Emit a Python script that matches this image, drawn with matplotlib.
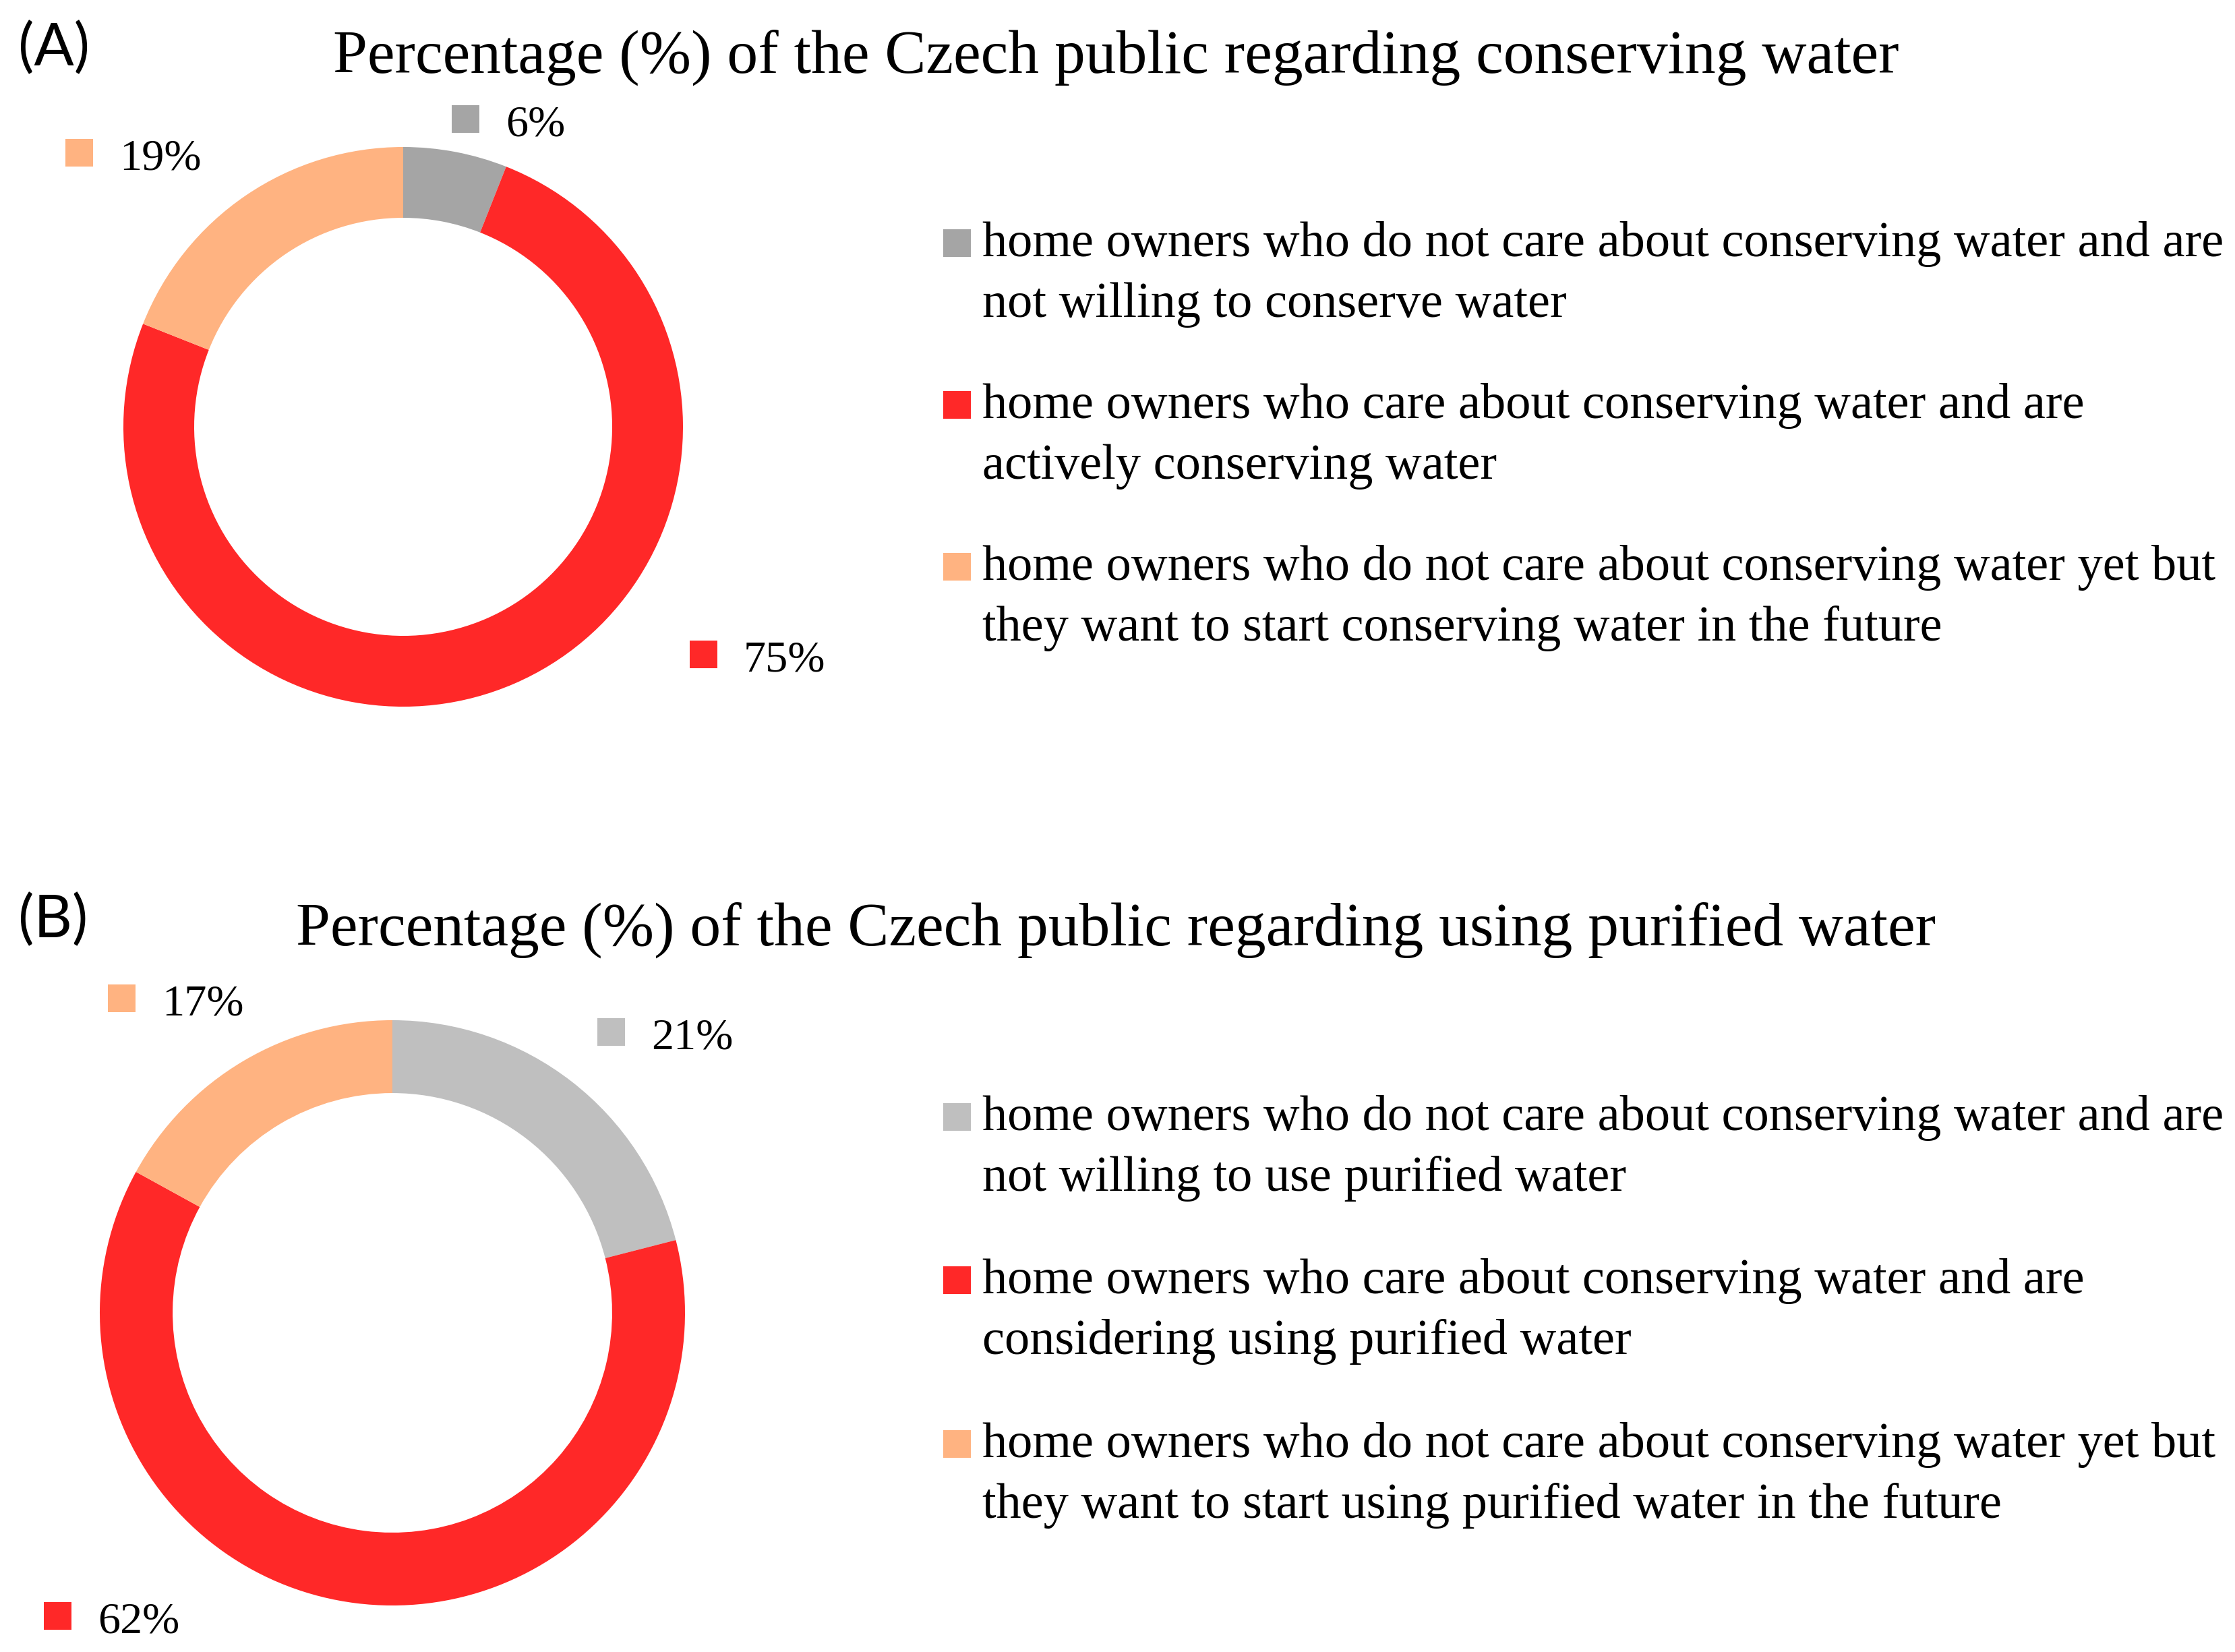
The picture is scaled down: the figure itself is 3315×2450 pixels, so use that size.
import matplotlib
matplotlib.use("Agg")
import matplotlib.pyplot as plt
from matplotlib.patches import Rectangle

W, H = 3315, 2450
DPI = 300
fig = plt.figure(figsize=(W / DPI, H / DPI), dpi=DPI)
fig.patch.set_facecolor("white")

SERIF = ["Liberation Serif", "DejaVu Serif"]
SANS = ["Lato", "DejaVu Sans"]

# ---------------- data ----------------
panel_tags = ["(A)", "(B)"]
titles = [
    "Percentage (%) of the Czech public regarding conserving water",
    "Percentage (%) of the Czech public regarding using purified water",
]
values_A = [6, 75, 19]
values_B = [21, 62, 17]
colors_A = ["#A5A5A5", "#FF2828", "#FFB381"]
colors_B = ["#BFBFBF", "#FF2828", "#FFB381"]
legend_A = [
    "home owners who do not care about conserving water and are\nnot willing to conserve water",
    "home owners who care about conserving water and are\nactively conserving water",
    "home owners who do not care about conserving water yet but\nthey want to start conserving water in the future",
]
legend_B = [
    "home owners who do not care about conserving water and are\nnot willing to use purified water",
    "home owners who care about conserving water and are\nconsidering using purified water",
    "home owners who do not care about conserving water yet but\nthey want to start using purified water in the future",
]

# ---------------- layout (pixels) ----------------
renderer = fig.canvas.get_renderer()


def fx(x):
    return x / W


def fy(y):
    return 1 - y / H


def fit_size(s, family, target_w, base=20.0):
    t = fig.text(0, 0, s, family=family, fontsize=base)
    w = t.get_window_extent(renderer).width
    t.remove()
    return base * target_w / w


title_fs = fit_size(titles[0], SERIF, 2325)
tag_fs = fit_size(panel_tags[0], SANS, 95) * 1.12
pct_fs = fit_size("75%", SERIF, 118) * 1.03
leg_fs = fit_size(legend_A[0].split("\n")[0], SERIF, 1842)

panels = [
    dict(values=values_A, colors=colors_A, legend=legend_A, title=titles[0], tag=panel_tags[0],
         center=(598, 633), R=415, ring=0.253,
         title_y=108, tag_y=97,
         pct_pos=[(690, 176), (1043, 970), (117, 226)],
         leg_y=[360, 600, 840]),
    dict(values=values_B, colors=colors_B, legend=legend_B, title=titles[1], tag=panel_tags[1],
         center=(582, 1947), R=434, ring=0.249,
         title_y=1402, tag_y=1390,
         pct_pos=[(906, 1530), (85, 2396), (180, 1480)],
         leg_y=[1656, 1898, 2141]),
]

MK = 41  # marker square size, px


def square(cx, cy, color):
    fig.patches.append(Rectangle((fx(cx - MK / 2), fy(cy + MK / 2)), MK / W, MK / H,
                                 transform=fig.transFigure, facecolor=color,
                                 edgecolor="none", figure=fig))


for p in panels:
    cx, cy = p["center"]
    R = p["R"]
    ax = fig.add_axes([fx(cx - R), fy(cy + R), 2 * R / W, 2 * R / H])
    ax.pie(p["values"], colors=p["colors"], startangle=90, counterclock=False,
           radius=1, wedgeprops=dict(width=p["ring"], linewidth=0, edgecolor="none"))
    ax.set_xlim(-1, 1)
    ax.set_ylim(-1, 1)
    ax.set_aspect("equal")
    ax.axis("off")

    fig.text(fx(1655), fy(p["title_y"]), p["title"], family=SERIF, fontsize=title_fs,
             ha="center", va="baseline")
    fig.text(fx(27), fy(p["tag_y"]), p["tag"], family=SANS, fontsize=tag_fs,
             ha="left", va="baseline")

    for v, c, (mx, my) in zip(p["values"], p["colors"], p["pct_pos"]):
        square(mx, my, c)
        fig.text(fx(mx + 60), fy(my + 25), f"{v}%", family=SERIF, fontsize=pct_fs,
                 ha="left", va="baseline")

    for lab, c, ly in zip(p["legend"], p["colors"], p["leg_y"]):
        square(1419, ly, c)
        for i, line in enumerate(lab.split("\n")):
            fig.text(fx(1457), fy(ly + 20 + 90 * i), line, family=SERIF, fontsize=leg_fs,
                     ha="left", va="baseline")

fig.savefig("out.png", dpi=DPI, facecolor="white")
